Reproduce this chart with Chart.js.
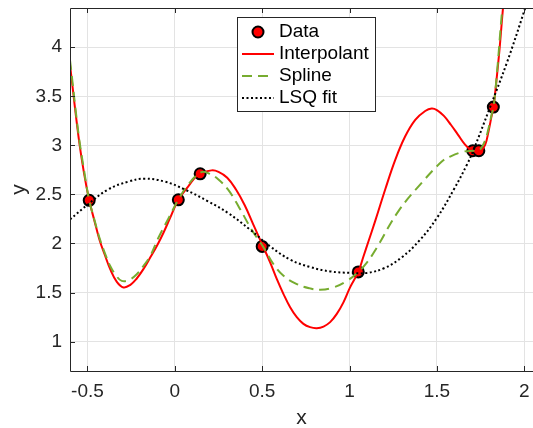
<!DOCTYPE html>
<html>
<head>
<meta charset="utf-8">
<script src="https://cdn.jsdelivr.net/npm/chart.js@4.4.1/dist/chart.umd.min.js"></script>
<style>
  html, body { margin: 0; padding: 0; background: #fff; }
  canvas { display: block; }
</style>
</head>
<body>
<canvas id="chart" width="533" height="428"></canvas>
<script>
// values
const dataX = [-0.49, 0.02, 0.145, 0.50, 1.05, 1.705, 1.74, 1.823]
const dataY = [2.44, 2.445, 2.71, 1.97, 1.71, 2.945, 2.945, 3.39]

const interpX = [-0.6, -0.55, -0.52, -0.49, -0.46, -0.43, -0.40, -0.37, -0.332, -0.294, -0.256, -0.218, -0.18, -0.141, -0.103, -0.065, -0.027, 0.02, 0.076, 0.133, 0.21, 0.25, 0.30, 0.35, 0.40, 0.45, 0.504, 0.546, 0.584, 0.622, 0.66, 0.698, 0.736, 0.774, 0.813, 0.851, 0.889, 0.927, 0.965, 1.003, 1.05, 1.08, 1.108, 1.147, 1.204, 1.261, 1.318, 1.376, 1.433, 1.47, 1.50, 1.54, 1.58, 1.62, 1.66, 1.69, 1.709, 1.728, 1.748, 1.776, 1.795, 1.814, 1.824, 1.843, 1.858, 1.872, 1.9]
const interpY = [3.82, 3.07, 2.72, 2.44, 2.23, 2.03, 1.88, 1.738, 1.609, 1.552, 1.576, 1.643, 1.738, 1.856, 1.974, 2.109, 2.261, 2.445, 2.58, 2.70, 2.745, 2.73, 2.67, 2.55, 2.39, 2.19, 1.974, 1.805, 1.636, 1.484, 1.349, 1.248, 1.18, 1.147, 1.137, 1.153, 1.198, 1.282, 1.40, 1.552, 1.71, 1.87, 2.02, 2.23, 2.55, 2.85, 3.09, 3.26, 3.35, 3.376, 3.36, 3.30, 3.21, 3.11, 3.01, 2.96, 2.945, 2.928, 2.935, 3.004, 3.139, 3.308, 3.39, 3.70, 3.97, 4.27, 4.85]

const splineX = [-0.6, -0.55, -0.52, -0.49, -0.46, -0.43, -0.40, -0.37, -0.335, -0.304, -0.26, -0.218, -0.18, -0.141, -0.096, -0.038, 0.02, 0.076, 0.152, 0.2, 0.248, 0.305, 0.364, 0.44, 0.504, 0.565, 0.622, 0.698, 0.774, 0.832, 0.908, 0.985, 1.05, 1.099, 1.147, 1.28, 1.414, 1.528, 1.576, 1.652, 1.709, 1.743, 1.776, 1.795, 1.814, 1.824, 1.843, 1.872, 1.9]
const splineY = [3.87, 3.10, 2.75, 2.44, 2.24, 2.05, 1.90, 1.771, 1.67, 1.619, 1.63, 1.687, 1.77, 1.872, 2.05, 2.25, 2.445, 2.60, 2.727, 2.71, 2.655, 2.548, 2.38, 2.14, 1.97, 1.788, 1.67, 1.586, 1.542, 1.528, 1.552, 1.619, 1.71, 1.805, 1.93, 2.33, 2.62, 2.835, 2.886, 2.936, 2.945, 2.95, 3.05, 3.17, 3.32, 3.39, 3.72, 4.35, 4.85]

const lsqX = [-0.6, -0.496, -0.382, -0.267, -0.172, -0.057, 0.057, 0.19, 0.305, 0.431, 0.546, 0.66, 0.774, 0.889, 1.003, 1.1, 1.2, 1.3, 1.4, 1.5, 1.6, 1.671, 1.709, 1.8, 1.9, 2.0, 2.05]
const lsqY = [2.245, 2.40, 2.55, 2.63, 2.66, 2.63, 2.55, 2.43, 2.31, 2.14, 1.97, 1.835, 1.76, 1.715, 1.70, 1.70, 1.75, 1.86, 2.03, 2.26, 2.56, 2.80, 2.95, 3.37, 3.84, 4.37, 4.66]

const xTicks = [-0.5, 0, 0.5, 1, 1.5, 2]
const yTicks = [1, 1.5, 2, 2.5, 3, 3.5, 4]
const labels = ['Data', 'Interpolant', 'Spline', 'LSQ fit']

const FONT = "'Liberation Sans', Arial, Helvetica, sans-serif"
const INK = '#262626'

const pts = (xs, ys) => xs.map((x, i) => ({ x: x, y: ys[i] }))

// box, inner tick marks, legend
const frame = {
  id: 'frame',
  afterDatasetsDraw(chart) {
    const { ctx, chartArea: a, scales: { x, y } } = chart
    ctx.save()
    ctx.strokeStyle = INK
    ctx.lineWidth = 1
    ctx.beginPath()
    ctx.moveTo(a.left + 0.5, a.top + 0.5)
    ctx.lineTo(a.left + 0.5, a.bottom + 0.5)
    ctx.lineTo(a.right, a.bottom + 0.5)
    ctx.moveTo(a.left + 0.5, a.top + 0.5)
    ctx.lineTo(a.right, a.top + 0.5)
    xTicks.forEach(v => {
      const px = Math.round(x.getPixelForValue(v)) + 0.5
      ctx.moveTo(px, a.bottom); ctx.lineTo(px, a.bottom - 5)
      ctx.moveTo(px, a.top); ctx.lineTo(px, a.top + 5)
    })
    yTicks.forEach(v => {
      const py = Math.round(y.getPixelForValue(v)) + 0.5
      ctx.moveTo(a.left, py); ctx.lineTo(a.left + 5, py)
    })
    ctx.stroke()
    ctx.restore()
  },
  afterDraw(chart) {
    const ctx = chart.ctx
    const ds = chart.data.datasets
    ctx.save()
    ctx.fillStyle = '#fff'
    ctx.fillRect(237.5, 17.5, 138, 94)
    ctx.strokeStyle = INK
    ctx.lineWidth = 1
    ctx.strokeRect(237.5, 17.5, 138, 94)
    const rows = [32, 54, 76, 98]
    rows.forEach((ry, i) => {
      const d = ds[i]
      if (i === 0) {
        ctx.beginPath()
        ctx.arc(258, ry, 5.5, 0, Math.PI * 2)
        ctx.fillStyle = d.backgroundColor
        ctx.fill()
        ctx.lineWidth = d.borderWidth
        ctx.strokeStyle = d.borderColor
        ctx.stroke()
      } else {
        ctx.beginPath()
        ctx.setLineDash(d.borderDash || [])
        ctx.lineWidth = d.borderWidth
        ctx.strokeStyle = d.borderColor
        ctx.moveTo(242, ry)
        ctx.lineTo(274, ry)
        ctx.stroke()
        ctx.setLineDash([])
      }
      ctx.fillStyle = '#000'
      ctx.font = '19px ' + FONT
      ctx.textBaseline = 'middle'
      ctx.textAlign = 'left'
      ctx.fillText(labels[i], 279, ry)
    })
    ctx.restore()
  }
}

new Chart(document.getElementById('chart'), {
  type: 'scatter',
  data: {
    datasets: [
      {
        label: labels[0],
        data: pts(dataX, dataY),
        backgroundColor: '#ff0000',
        borderColor: '#000000',
        borderWidth: 2,
        pointRadius: 5.5,
        showLine: false,
        order: 4
      },
      {
        label: labels[1],
        data: pts(interpX, interpY),
        showLine: true,
        borderColor: '#ff0000',
        borderWidth: 2,
        pointRadius: 0,
        tension: 0.4,
        order: 3
      },
      {
        label: labels[2],
        data: pts(splineX, splineY),
        showLine: true,
        borderColor: '#77ac30',
        borderWidth: 2,
        borderDash: [10, 6],
        pointRadius: 0,
        tension: 0.4,
        order: 2
      },
      {
        label: labels[3],
        data: pts(lsqX, lsqY),
        showLine: true,
        borderColor: '#000000',
        borderWidth: 2,
        borderDash: [2, 2.5],
        pointRadius: 0,
        tension: 0.4,
        order: 1
      }
    ]
  },
  options: {
    responsive: false,
    animation: false,
    devicePixelRatio: 1,
    layout: { autoPadding: false, padding: { top: 8, right: 0, left: 0, bottom: 0 } },
    plugins: { legend: { display: false }, tooltip: { enabled: false } },
    scales: {
      x: {
        type: 'linear',
        min: -0.6,
        max: 2.05,
        afterBuildTicks: s => { s.ticks = xTicks.map(v => ({ value: v })) },
        afterFit: s => { s.height = 57; s.paddingLeft = 0; s.paddingRight = 0 },
        grid: { color: '#e3e3e3', drawTicks: false },
        border: { display: false },
        ticks: {
          padding: 9, color: INK, autoSkip: false, maxRotation: 0,
          font: { family: FONT, size: 19 },
          callback: v => String(v)
        },
        title: {
          display: true, text: 'x', color: INK,
          font: { family: FONT, size: 21, lineHeight: 1 },
          padding: { top: 0, bottom: -1 }
        }
      },
      y: {
        type: 'linear',
        min: 0.7,
        max: 4.4,
        afterBuildTicks: s => { s.ticks = yTicks.map(v => ({ value: v })) },
        afterFit: s => { s.width = 70; s.paddingTop = 0; s.paddingBottom = 0 },
        grid: { color: '#e3e3e3', drawTicks: false },
        border: { display: false },
        ticks: {
          padding: 8, color: INK, autoSkip: false,
          font: { family: FONT, size: 19 },
          callback: v => String(v)
        },
        title: {
          display: true, text: 'y', color: INK,
          font: { family: FONT, size: 21, lineHeight: 1 },
          padding: { top: 9, bottom: 0 }
        }
      }
    }
  },
  plugins: [frame]
})
</script>
</body>
</html>
